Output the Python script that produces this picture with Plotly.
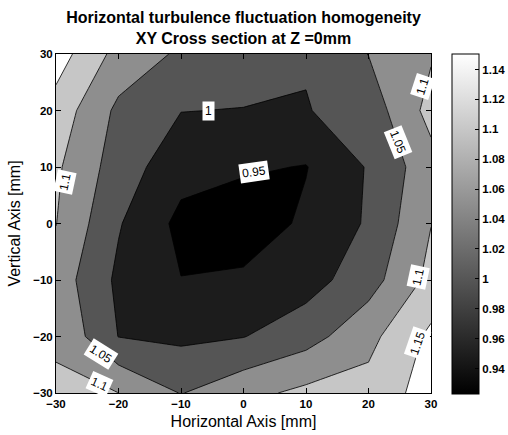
import plotly.graph_objects as go

# Measurement grid (mm)
x_mm = [-30, -20, -10, 0, 10, 20, 30]
y_mm = [30, 20, 10, 0, -10, -20, -30]

# Homogeneity ratio, one row per vertical position (top to bottom), columns follow x_mm
row_y30 = [1.174, 1.083, 1.042, 1.025, 1.004, 1.051, 1.095]
row_y20 = [1.130, 1.039, 1.001, 0.9985, 0.9977, 1.021, 1.117]
row_y10 = [1.108, 1.026, 0.968, 0.956, 0.948, 1.004, 1.081]
row_y0 = [1.101, 1.004, 0.937, 0.9233, 0.958, 1.006, 1.099]
row_ym10 = [1.078, 0.990, 0.951, 0.958, 0.979, 1.029, 1.114]
row_ym20 = [1.095, 0.999, 0.990, 0.9985, 1.030, 1.085, 1.161]
row_ym30 = [1.106, 1.1002, 1.048, 1.085, 1.112, 1.118, 1.172]

# Contour levels and the gray of each filled band (below first level ... above last)
levels = [0.95, 1.0, 1.05, 1.1, 1.15]
band_grays = [0, 28, 85, 142, 198, 255]

# Colour bar
cbar_range = [0.9233, 1.1507]
cbar_ticks = [0.94, 0.96, 0.98, 1.0, 1.02, 1.04, 1.06, 1.08, 1.1, 1.12, 1.14]

# Inline contour labels: (level index, x, y, angle)
label_spots = [
    (1, -5.6, 19.9, 0),
    (0, 1.65, 9.2, -8),
    (2, 24.7, 14.4, 68),
    (3, 28.7, 24.3, -72),
    (3, -28.6, 7.4, -78),
    (2, -22.8, -23.1, 32),
    (3, -23.1, -28.4, 24),
    (3, 27.9, -9.4, -78),
    (4, 27.9, -21.2, -71),
]

FONT = "Liberation Sans, Arial, sans-serif"

z = [row_y30, row_y20, row_y10, row_y0, row_ym10, row_ym20, row_ym30]

n_bands = len(band_grays)
fill_scale = [[i / (n_bands - 1), f"rgb({g},{g},{g})"] for i, g in enumerate(band_grays)]
step = round(levels[1] - levels[0], 10)

fig = go.Figure()

fig.add_trace(go.Contour(
    x=x_mm, y=y_mm, z=z,
    autocontour=False,
    contours=dict(start=levels[0], end=levels[-1], size=step,
                  coloring="fill", showlines=True, showlabels=False),
    colorscale=fill_scale,
    line=dict(color="black", width=0.8, smoothing=0),
    showscale=False,
    hoverinfo="skip",
))

# continuous gray colour bar
fig.add_trace(go.Scatter(
    x=[0, 0], y=[0, 0], mode="markers",
    marker=dict(size=1, opacity=0, color=cbar_range,
                cmin=cbar_range[0], cmax=cbar_range[1],
                colorscale=[[0, "rgb(0,0,0)"], [1, "rgb(255,255,255)"]],
                showscale=True,
                colorbar=dict(
                    x=1.055, xanchor="left", xpad=0,
                    y=0.5, yanchor="middle", ypad=0,
                    thickness=27, lenmode="pixels", len=340,
                    outlinecolor="black", outlinewidth=1,
                    tickmode="array", tickvals=cbar_ticks,
                    ticktext=[f"{t:g}" for t in cbar_ticks],
                    ticks="inside", ticklen=4, tickcolor="black",
                    tickfont=dict(family=FONT, size=11.5, color="black", weight="bold"),
                )),
    hoverinfo="skip", showlegend=False,
))

for idx, lx, ly, ang in label_spots:
    fig.add_annotation(
        x=lx, y=ly, xref="x", yref="y", text=f"{levels[idx]:g}",
        showarrow=False, textangle=ang, bgcolor="white", borderpad=2,
        font=dict(family=FONT, size=12, color="black"),
    )

axis_common = dict(
    range=[-30, 30], tickvals=[-30, -20, -10, 0, 10, 20, 30],
    ticks="inside", ticklen=5, tickcolor="black", mirror="ticks",
    showline=True, linecolor="black", linewidth=1,
    showgrid=False, zeroline=False,
    tickfont=dict(family=FONT, size=11.5, color="black", weight="bold"),
)

fig.update_layout(
    width=508, height=435, autosize=False,
    margin=dict(l=56, r=77, t=54, b=42, autoexpand=False),
    paper_bgcolor="white", plot_bgcolor="white",
    showlegend=False,
    title=dict(
        text="Horizontal turbulence fluctuation homogeneity<br>XY Cross section at Z =0mm",
        x=0.4793, xanchor="center", y=0.947, yanchor="top", yref="container",
        font=dict(family=FONT, size=16, color="black", weight="bold"),
    ),
    xaxis=dict(axis_common, title=dict(text="Horizontal Axis [mm]", standoff=7,
                                       font=dict(family=FONT, size=16, color="black"))),
    yaxis=dict(axis_common, title=dict(text="Vertical Axis [mm]", standoff=8,
                                       font=dict(family=FONT, size=16, color="black"))),
)

fig.write_html("out.html")
